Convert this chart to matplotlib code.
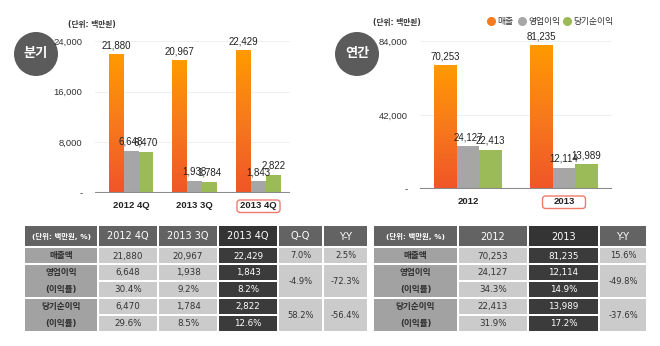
import numpy as np
import matplotlib.pyplot as plt
from matplotlib.patches import Circle, Rectangle, FancyBboxPatch
from matplotlib.colors import LinearSegmentedColormap

plt.rcParams['font.family'] = ['DejaVu Sans', 'Noto Sans CJK KR']
NUM_FONT = ['Liberation Sans', 'DejaVu Sans']

# quarterly figures (unit: million won)
quarters = ['2012 4Q', '2013 3Q', '2013 4Q']
q_sales = [21880, 20967, 22429]
q_op = [6648, 1938, 1843]
q_net = [6470, 1784, 2822]

# annual figures
years = ['2012', '2013']
y_sales = [70253, 81235]
y_op = [24127, 12114]
y_net = [22413, 13989]

series_names = ['매출', '영업이익', '당기순이익']
series_colors = ['#f47b20', '#a6a6a6', '#9bbb59']

# table contents
unit_label = '(단위: 백만원)'
table_unit = '(단위: 백만원, %)'
row_labels = ['매출액', '영업이익', '(이익률)', '당기순이익', '(이익률)']
q_op_margin = ['30.4%', '9.2%', '8.2%']
q_net_margin = ['29.6%', '8.5%', '12.6%']
q_qoq = ['7.0%', '-4.9%', '58.2%']
q_yoy = ['2.5%', '-72.3%', '-56.4%']
y_op_margin = ['34.3%', '14.9%']
y_net_margin = ['31.9%', '17.2%']
y_yoy = ['15.6%', '-49.8%', '-37.6%']

W, H = 660, 346
fig = plt.figure(figsize=(W / 100, H / 100), dpi=100)
fig.patch.set_facecolor('white')

grad_cmap = LinearSegmentedColormap.from_list('sales', ['#f05528', '#f7791c', '#ff9a00'])
grad = np.linspace(0, 1, 256).reshape(-1, 1)


def px_axes(left, right, top, bottom):
    return fig.add_axes([left / W, 1 - bottom / H, (right - left) / W, (bottom - top) / H])


def bar_chart(geom, cats, sales, op, net, ymax, xlim, width):
    left, right, top, bottom = geom
    ax = px_axes(left, right, top, bottom)
    x = np.arange(len(cats))
    for xi, v in zip(x, sales):
        ax.imshow(grad, extent=(xi - 1.5 * width, xi - 0.5 * width, 0, v),
                  origin='lower', cmap=grad_cmap, aspect='auto', zorder=2)
    ax.bar(x, op, width, color=series_colors[1], zorder=2)
    ax.bar(x + width, net, width, color=series_colors[2], zorder=2)
    for off, vals in zip([-width, 0, width], [sales, op, net]):
        for xi, v in zip(x, vals):
            ax.annotate(f'{v:,}', (xi + off, v), xytext=(0, 3), textcoords='offset points',
                        ha='center', va='bottom', fontsize=7, color='#222222',
                        family=NUM_FONT)
    ax.set_xlim(*xlim)
    ax.set_ylim(0, ymax)
    ax.set_aspect('auto')
    ticks = [0, ymax / 3, 2 * ymax / 3, ymax] if ymax == 24000 else [0, ymax / 2, ymax]
    ax.set_yticks(ticks)
    ax.set_yticklabels(['-'] + [f'{int(t):,}' for t in ticks[1:]], family=NUM_FONT)
    ax.set_xticks(x)
    ax.set_xticklabels(cats, fontweight='bold', family=NUM_FONT)
    ax.tick_params(axis='y', length=0, pad=9, labelsize=6.8, labelcolor='#333333')
    ax.tick_params(axis='x', length=0, pad=6, labelsize=6.8, labelcolor='#222222')
    for s in ax.spines.values():
        s.set_visible(False)
    ax.grid(axis='y', color='#f0f0f0', lw=0.8, zorder=0)
    ax.axhline(0, color='#8a8a8a', lw=1.5, zorder=3)
    ax.patch.set_alpha(0)

    # rounded outline around the latest period label
    ppu = (right - left) / (xlim[1] - xlim[0])
    cx = left + (x[-1] - xlim[0]) * ppu
    box = FancyBboxPatch((cx - 21.5, bottom + 7), 43, 12.5,
                         boxstyle='round,pad=0,rounding_size=3',
                         fc='none', ec='#ef7a6c', lw=1.0)
    bg.add_patch(box)
    return ax


bg = fig.add_axes([0, 0, 1, 1])
bg.set_xlim(0, W)
bg.set_ylim(H, 0)
bg.axis('off')

bar_chart((95, 290, 41, 193), quarters, q_sales, q_op, q_net, 24000,
          (-0.565, 2.494), 0.235)
bar_chart((420, 612, 41, 189), years, y_sales, y_op, y_net, 84000,
          (-0.5, 1.5), 0.234)

# period badges
for cx, label in [(36, '분기'), (357, '연간')]:
    bg.add_patch(Circle((cx, 54), 22, fc='#5b5b5b', ec='none'))
    bg.text(cx, 54, label, ha='center', va='center', color='white',
            fontsize=9.5, fontweight='bold')

bg.text(68, 24, unit_label, fontsize=5.5, color='#333333', va='center', fontweight='bold')
bg.text(373, 23, unit_label, fontsize=5.5, color='#333333', va='center', fontweight='bold')

# legend
for lx, name, col in zip([491, 522, 567], series_names, series_colors):
    bg.plot(lx, 21, 'o', ms=5.5, color=col)
    bg.text(lx + 6, 21.5, name, fontsize=6.3, color='#333333', va='center')

# tables
rows_y = [225, 247, 264, 281, 298, 315, 332]
HEAD, HEAD_HI = '#636363', '#343434'
LABEL, CELL, CELL_HI = '#a2a2a2', '#cbcbcb', '#3b3b3b'


def cell(x0, x1, y0, y1, color, text='', tcolor='#333333', size=6.3, bold=False):
    bg.add_patch(Rectangle((x0 + 0.8, y0 + 0.8), x1 - x0 - 1.6, y1 - y0 - 1.6, fc=color, lw=0))
    if text:
        bg.text((x0 + x1) / 2, (y0 + y1) / 2 + 0.5, text, ha='center', va='center',
                color=tcolor, fontsize=size, fontweight='bold' if bold else 'normal')


def table(cols, headers, columns, hi, changes):
    # header row
    for i, h in enumerate(headers):
        color = HEAD_HI if i == hi else HEAD
        cell(cols[i], cols[i + 1], rows_y[0], rows_y[1], color, h, 'white',
             size=5.3 if i == 0 else 7, bold=(i == 0))
    # label column, profit rows share a block
    cell(cols[0], cols[1], rows_y[1], rows_y[2], LABEL)
    cell(cols[0], cols[1], rows_y[2], rows_y[4], LABEL)
    cell(cols[0], cols[1], rows_y[4], rows_y[6], LABEL)
    for r, lab in enumerate(row_labels):
        bg.text((cols[0] + cols[1]) / 2, (rows_y[r + 1] + rows_y[r + 2]) / 2, lab,
                ha='center', va='center', fontsize=6.2, fontweight='bold', color='#2e2e2e')
    # value columns
    for c, vals in enumerate(columns, start=1):
        for r, v in enumerate(vals):
            if c == hi:
                cell(cols[c], cols[c + 1], rows_y[r + 1], rows_y[r + 2], CELL_HI, v, 'white')
            else:
                cell(cols[c], cols[c + 1], rows_y[r + 1], rows_y[r + 2], CELL, v)
    # change columns with merged profit rows
    start = len(columns) + 1
    for k, vals in enumerate(changes):
        c = start + k
        spans = [(1, 2), (2, 4), (4, 6)]
        for (a, b), v in zip(spans, vals):
            cell(cols[c], cols[c + 1], rows_y[a], rows_y[b], CELL, v, size=6)


def fmt(v):
    return f'{v:,}'


q_columns = []
for i in range(3):
    q_columns.append([fmt(q_sales[i]), fmt(q_op[i]), q_op_margin[i], fmt(q_net[i]), q_net_margin[i]])
table([24, 98, 158, 218, 278, 323, 368],
      [table_unit] + quarters + ['Q-Q', 'Y-Y'], q_columns, 3, [q_qoq, q_yoy])

y_columns = []
for i in range(2):
    y_columns.append([fmt(y_sales[i]), fmt(y_op[i]), y_op_margin[i], fmt(y_net[i]), y_net_margin[i]])
table([373, 458, 528, 599, 647],
      [table_unit] + years + ['Y-Y'], y_columns, 2, [y_yoy])

fig.savefig('out.png', dpi=100)
